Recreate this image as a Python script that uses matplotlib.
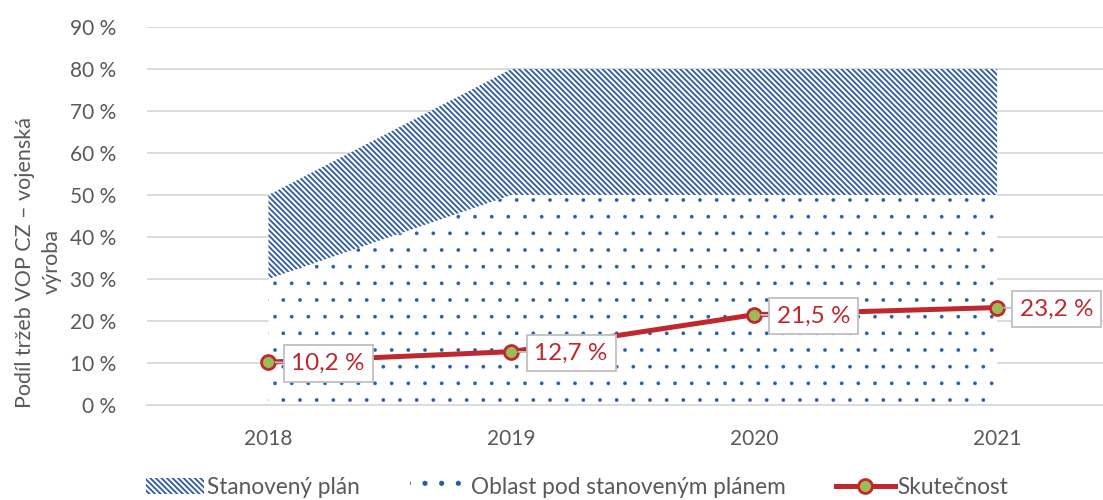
import matplotlib
matplotlib.use('Agg')
import matplotlib.pyplot as plt
from matplotlib.ticker import FuncFormatter, MultipleLocator
from matplotlib.patches import Patch
from matplotlib.lines import Line2D

# data
roky = ['2018', '2019', '2020', '2021']
oblast_pod_planem = [30, 50, 50, 50]   # spodni tečkovaná oblast
stanoveny_plan = [20, 30, 30, 30]      # šrafovaný pás nad ní
skutecnost = [10.2, 12.7, 21.5, 23.2]

seda = '#595959'
cervena = '#C0282D'
zelena = '#9BBB59'
modra = '#2E5C9E'

plt.rcParams['font.family'] = ['Lato', 'DejaVu Sans']
plt.rcParams['hatch.linewidth'] = 1.3


def hatch_lw(artist, lw):
    # od matplotlib 3.10 jde nastavit tloušťku šrafy pro každý objekt
    if hasattr(artist, 'set_hatch_linewidth'):
        artist.set_hatch_linewidth(lw)


fig = plt.figure(figsize=(11.03, 5.0), dpi=100)
ax = fig.add_axes([147/1103, 95/500, 1 - 147/1103, 378/500])

x = list(range(len(roky)))
spodek = oblast_pod_planem
vrch = [a + b for a, b in zip(oblast_pod_planem, stanoveny_plan)]

teckovana = ax.fill_between(x, 0, spodek, facecolor='white', edgecolor='#2A5CA8',
                            hatch='.', linewidth=0, zorder=1)
hatch_lw(teckovana, 0.25)
srafovana = ax.fill_between(x, spodek, vrch, facecolor='white', edgecolor=modra,
                            hatch='\\\\\\\\\\\\', linewidth=0, zorder=1)
hatch_lw(srafovana, 1.3)
ax.plot(x, skutecnost, color=cervena, linewidth=3.6, marker='o',
        markersize=10, markerfacecolor=zelena, markeredgecolor=cervena,
        markeredgewidth=2, zorder=3)

for xi, v in zip(x, skutecnost):
    ax.annotate(f'{v:.1f}'.replace('.', ',') + ' %', xy=(xi, v),
                xytext=(43, -1), textcoords='offset points',
                ha='center', va='center', fontsize=17.5, color=cervena,
                bbox=dict(boxstyle='square,pad=0.32', fc='white', ec='#BFBFBF', lw=1.3),
                arrowprops=dict(arrowstyle='-', color='#BFBFBF', lw=1.3,
                                shrinkA=0, shrinkB=5),
                zorder=4)

ax.set_xlim(-0.5, 3.436)
ax.set_ylim(0, 90)
ax.yaxis.set_major_locator(MultipleLocator(10))
ax.yaxis.set_major_formatter(FuncFormatter(lambda v, p: f'{v:.0f} %'))
ax.set_xticks(x)
ax.set_xticklabels(roky)
ax.tick_params(axis='both', length=0, labelsize=15, colors=seda)
ax.tick_params(axis='y', pad=22)
ax.tick_params(axis='x', pad=17)
ax.grid(axis='y', color='#D9D9D9', linewidth=1.3, zorder=0)
ax.set_axisbelow(True)
for s in ['top', 'right', 'left']:
    ax.spines[s].set_visible(False)
ax.spines['bottom'].set_color('#D9D9D9')
ax.spines['bottom'].set_linewidth(1.3)

fig.text(0.035, 0.476, 'Podíl tržeb VOP CZ – vojenská\nvýroba', rotation=90,
         ha='center', va='center', multialignment='center', fontsize=15.5,
         color=seda, linespacing=1.45)

handles = [
    Patch(facecolor='white', edgecolor=modra, hatch='\\\\\\\\\\\\', linewidth=0),
    Patch(facecolor='white', edgecolor='#2A5CA8', hatch='.', linewidth=0),
    Line2D([], [], color=cervena, linewidth=3.6, marker='o', markersize=10,
           markerfacecolor=zelena, markeredgecolor=cervena, markeredgewidth=2),
]
hatch_lw(handles[1], 0.25)
labels = ['Stanovený plán', 'Oblast pod stanoveným plánem', 'Skutečnost']
leg = fig.legend(handles, labels, loc='center', bbox_to_anchor=(0.523, 0.025),
                 ncol=3, frameon=False, fontsize=16.3, handlelength=2.6,
                 handletextpad=0.12, columnspacing=2.2)
for t in leg.get_texts():
    t.set_color(seda)

fig.savefig('out.png', dpi=100)
